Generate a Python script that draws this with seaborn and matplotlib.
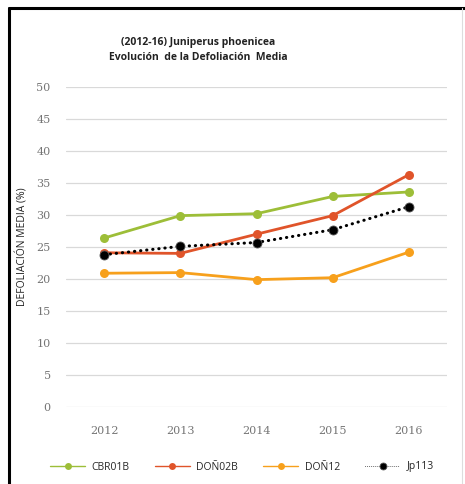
import matplotlib
matplotlib.use("Agg")
import matplotlib.pyplot as plt
from matplotlib.lines import Line2D
import seaborn as sns
import pandas as pd

years = [2012, 2013, 2014, 2015, 2016]
cbr01b = [26.4, 29.9, 30.2, 32.9, 33.6]
don02b = [24.1, 24.0, 27.0, 29.9, 36.3]
don12 = [20.9, 21.0, 19.9, 20.2, 24.2]
jp113 = [23.8, 25.1, 25.7, 27.7, 31.3]

series_names = ["CBR01B", "DOÑ02B", "DOÑ12", "Jp113"]
colors = ["#9DBE38", "#E0542A", "#F7A01C", "#000000"]

df = pd.DataFrame({"year": years, "CBR01B": cbr01b, "DOÑ02B": don02b,
                   "DOÑ12": don12, "Jp113": jp113})
long_df = df.melt(id_vars="year", var_name="serie", value_name="defol")

sns.set_style("white")
plt.rcParams["font.family"] = ["Open Sans", "DejaVu Sans"]

fig = plt.figure(figsize=(4.65, 4.84), dpi=100)
ax = fig.add_axes([66 / 465, 77 / 484, 381 / 465, 320 / 484])

for name, col in zip(series_names, colors):
    sub = long_df[long_df["serie"] == name]
    if name == "Jp113":
        sns.lineplot(data=sub, x="year", y="defol", ax=ax, color=col,
                     linestyle=(0, (0.1, 1.9)), linewidth=2.2, marker="o",
                     markersize=6.5, markeredgecolor="#555555",
                     markeredgewidth=0.6, label=name, zorder=4,
                     dash_capstyle="round")
    else:
        sns.lineplot(data=sub, x="year", y="defol", ax=ax, color=col,
                     linewidth=2.0, marker="o", markersize=6.5,
                     markeredgewidth=0, label=name, zorder=3)

ax.set_xlim(2011.5, 2016.5)
ax.set_ylim(0, 50)
ax.set_xticks(years)
ax.set_yticks(range(0, 51, 5))
ax.yaxis.grid(True, color="#D9D9D9", linewidth=0.9)
ax.xaxis.grid(False)
for s in ax.spines.values():
    s.set_visible(False)
ax.tick_params(axis="both", length=0, labelsize=8, labelcolor="#757575")
ax.tick_params(axis="y", pad=11)
ax.tick_params(axis="x", pad=14)
for lab in ax.get_xticklabels() + ax.get_yticklabels():
    lab.set_family(["DejaVu Serif"])
ax.set_xlabel("")
ax.set_ylabel("DEFOLIACIÓN MEDIA (%)", fontsize=7.5, color="#222222", labelpad=6)

fig.text(0.426, 0.906, "(2012-16) Juniperus phoenicea", ha="center",
         fontsize=7.5, fontweight="bold", color="#222222")
fig.text(0.426, 0.875, "Evolución  de la Defoliación  Media", ha="center",
         fontsize=7.5, fontweight="bold", color="#222222")

leg = ax.legend(loc="center", bbox_to_anchor=(0.52, 17 / 484), bbox_transform=fig.transFigure,
                ncol=4, frameon=False, fontsize=7.5, handlelength=3.4,
                columnspacing=2.4, handletextpad=0.6)
for h in leg.get_lines():
    h.set_linewidth(1.0)
    h.set_markersize(5)
leg.get_lines()[3].set_linewidth(0.7)
leg.get_lines()[3].set_color("#444444")
leg.get_lines()[3].set_markerfacecolor("black")

# picture frame
fig.add_artist(Line2D([9 / 465, 1.0], [1 - 8 / 484, 1 - 8 / 484], color="black",
                      linewidth=2.2, transform=fig.transFigure))
fig.add_artist(Line2D([9 / 465, 9 / 465], [0, 1 - 8 / 484], color="black",
                      linewidth=2.2, transform=fig.transFigure))
fig.add_artist(Line2D([462 / 465, 462 / 465], [0, 1 - 8 / 484], color="#DDDDDD",
                      linewidth=0.8, transform=fig.transFigure))

fig.savefig("out.png", dpi=100)
